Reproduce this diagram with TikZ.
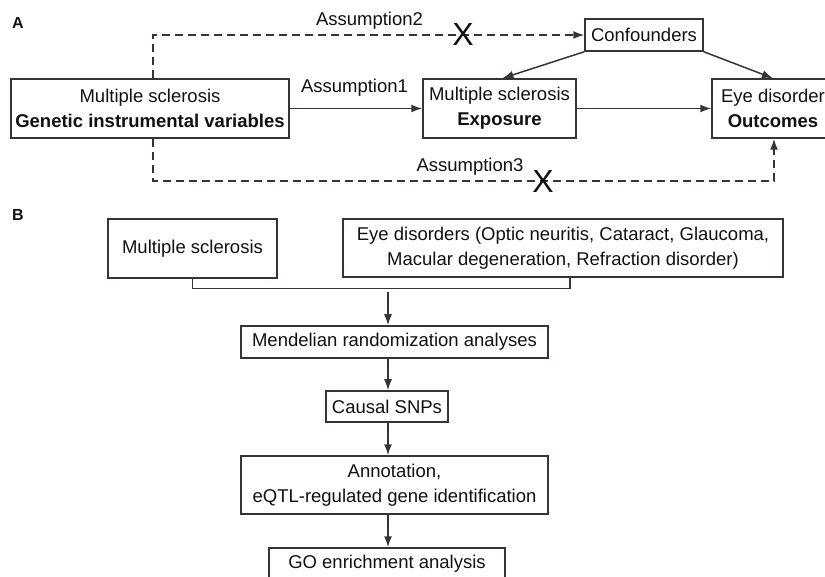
\documentclass[tikz,border=0pt]{standalone}
\usepackage{fontspec}
\setmainfont{Liberation Sans}
\usetikzlibrary{arrows.meta}
\definecolor{ink}{HTML}{111111}
\definecolor{line}{HTML}{3B3333}

\begin{document}
\begin{tikzpicture}[
  x=1pt,
  y=-1pt,
  font=\fontsize{18.5}{25}\selectfont,
  text=ink,
  box/.style={
    draw=line,
    line width=1.5pt,
    align=center,
    inner sep=0pt
  },
  tall/.style={box, minimum height=59pt},
  flat/.style={box, minimum height=32pt},
  arrow/.style={-{Latex[length=11pt,width=8pt]}, line width=1.5pt, draw=line},
  link/.style={line width=1.5pt, draw=line},
  dasharrow/.style={arrow, dash pattern=on 8pt off 5pt},
  dashlink/.style={link, dash pattern=on 8pt off 5pt},
  cross/.style={font=\fontsize{32}{32}\selectfont, inner sep=0pt},
  panel/.style={font=\fontsize{16}{16}\selectfont\bfseries, inner sep=0pt}
]
\useasboundingbox (0,0) rectangle (825,577);
\clip (0,0) rectangle (825,577);

% Panel A: instrumental variable assumptions
\node[panel] (panelA) at (18,22.5) {A};
\node[tall, minimum width=278pt] (instr) at (150,108.5) {Multiple sclerosis\\\textbf{Genetic instrumental variables}};
\node[tall, minimum width=153pt] (expo) at (499.5,108.5) {Multiple sclerosis\\\textbf{Exposure}};
\node[tall, minimum width=122pt] (outc) at (773,108.5) {Eye disorder\\\textbf{Outcomes}};
\node[flat, minimum width=118pt] (conf) at (644,35) {Confounders};

\draw[arrow] (instr) -- (expo);
\draw[arrow] (expo) -- (outc);
\draw[arrow] (conf.south west) -- ([xshift=3pt]expo.north);
\draw[arrow] (conf.south east) -- (outc.north);

\coordinate (a3turn) at (774,181);
\draw[dasharrow] ([xshift=3pt]instr.north) |- (conf.west);
\draw[dashlink] ([xshift=3pt]instr.south) |- (a3turn);
\draw[dasharrow] (a3turn) -- (a3turn |- outc.south);

\node (assum1) at (354.5,88) {Assumption1};
\node (assum2) at (369.5,21) {Assumption2};
\node (assum3) at (470,167) {Assumption3};
\node[cross] (cross2) at (463,34) {X};
\node[cross] (cross3) at (543,181) {X};

% Panel B: analysis workflow
\node[panel] (panelB) at (18,215) {B};
\node[tall, minimum width=169pt] (ms) at (192.5,248.5) {Multiple sclerosis};
\node[tall, minimum width=440pt, minimum height=58pt] (eye) at (563,248) {Eye disorders (Optic neuritis, Cataract, Glaucoma,\\Macular degeneration, Refraction disorder)};
\node[flat, minimum width=307pt] (mr) at (394.5,342) {Mendelian randomization analyses};
\node[flat, minimum width=122pt, minimum height=31pt] (cs) at (387,406.5) {Causal SNPs};
\node[tall, minimum width=307pt, minimum height=58pt] (ann) at (394.5,485) {Annotation,\\eQTL-regulated gene identification};
\node[flat, minimum width=236pt] (go) at (387,564) {GO enrichment analysis};

\coordinate (merge) at (388,292);
\draw[link] (ms.south) -- ++(0,10) -| ([xshift=7pt]eye.south);
\draw[arrow] (merge) -- (merge |- mr.north);
\draw[arrow] (merge |- mr.south) -- (merge |- cs.north);
\draw[arrow] (merge |- cs.south) -- (merge |- ann.north);
\draw[arrow] (merge |- ann.south) -- (merge |- go.north);

\end{tikzpicture}
\end{document}
